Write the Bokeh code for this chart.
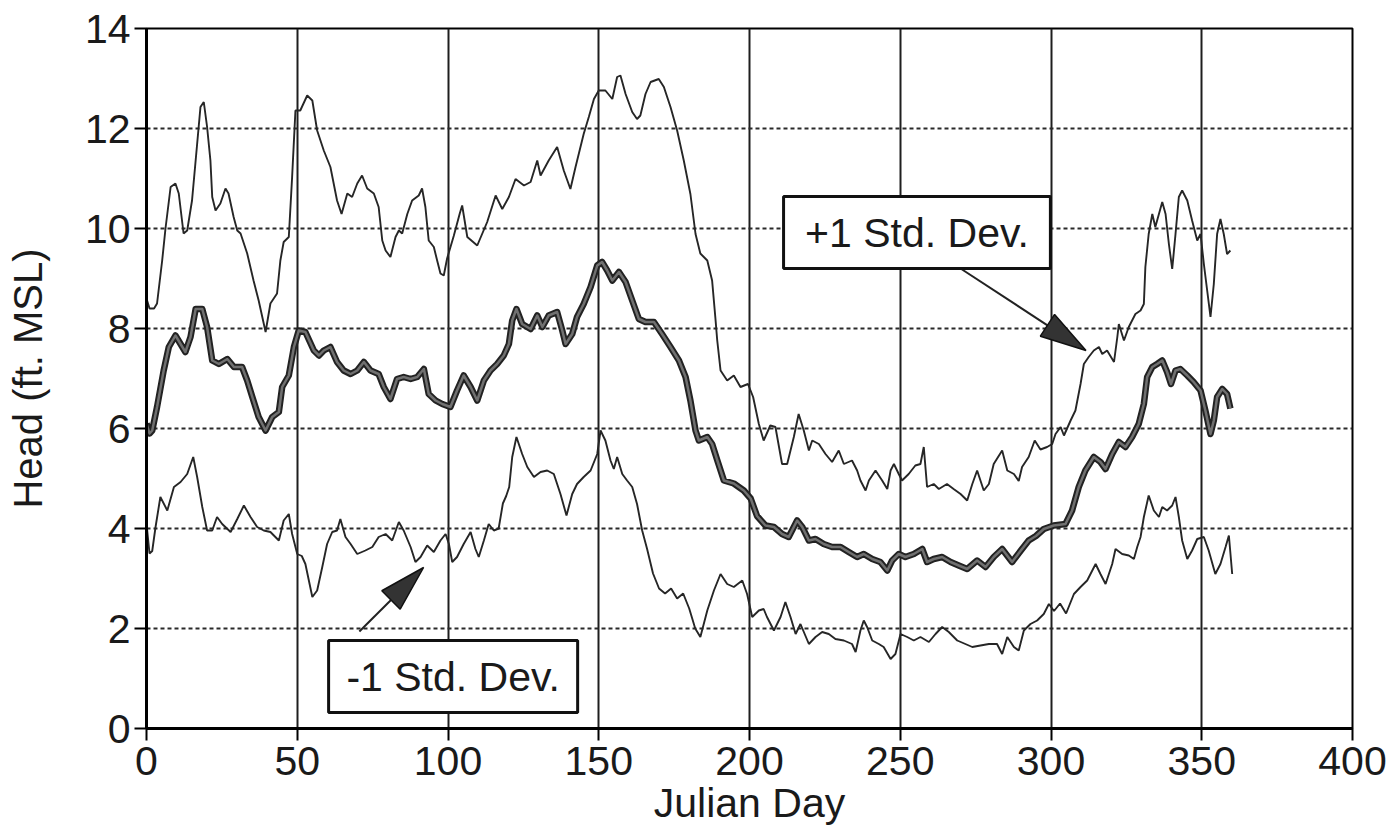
from bokeh.plotting import figure
from bokeh.models import Range1d, FixedTicker, BoxAnnotation, Label
from bokeh.embed import file_html
from bokeh.resources import INLINE

# ---------------- data ----------------
x_ticks = [0, 50, 100, 150, 200, 250, 300, 350, 400]
y_ticks = [0, 2, 4, 6, 8, 10, 12, 14]

upper_day = [0, 1, 2.5, 3.5, 5.2, 6.3, 8.0, 9.6, 10.7, 12.3, 13.5, 15.1, 16.3, 17.9, 19.0, 20.1, 21.2, 21.8, 22.9, 24.5,
             26.2, 27.2, 28.9, 30.1, 31.2, 33.4, 35.5, 37.2, 39.5, 41.1, 43.3, 44.4, 45.5, 47.2, 48.3, 49.4, 51.0, 53.3,
             55.0, 56.6, 58.8, 61.0, 63.2, 64.7, 66.6, 68.2, 69.9, 71.5, 73.2, 75.4, 77.0, 78.2, 79.3, 80.9, 82.6, 83.7,
             84.8, 86.5, 88.1, 90.3, 91.4, 92.5, 93.6, 95.3, 96.4, 97.5, 98.6, 99.7, 101.9, 103.9, 104.7, 106.4, 109.7,
             113.0, 115.8, 118.0, 120.2, 122.4, 125.2, 127.4, 129.6, 130.7, 133.4, 136.2, 138.4, 140.6, 142.3, 145.0,
             146.7, 148.4, 150.0, 152.2, 154.5, 156.1, 157.2, 158.9, 161.1, 162.7, 163.8, 165.5, 167.2, 169.9, 171.6,
             173.8, 176.0, 178.2, 180.4, 182.1, 183.7, 186.0, 187.6, 188.7, 189.3, 190.4, 192.6, 194.8, 197.0, 199.5,
             201.2, 203.1, 204.7, 206.9, 208.6, 210.8, 212.5, 214.7, 216.3, 218.0, 219.7, 220.8, 223.0, 225.2, 227.4,
             229.6, 231.3, 234.0, 235.7, 236.8, 238.5, 239.6, 241.8, 244.0, 245.7, 246.8, 247.9, 249.5, 250.6, 252.8,
             255.0, 256.7, 257.8, 258.9, 261.1, 262.8, 265.5, 267.7, 270.0, 272.2, 273.9, 275.5, 277.7, 279.4, 281.0,
             283.8, 285.5, 287.7, 289.3, 290.4, 292.6, 294.6, 296.5, 298.7, 300.4, 301.5, 303.2, 304.3, 306.5, 308.1,
             309.8, 310.9, 312.5, 314.2, 315.9, 317.0, 318.6, 320.9, 322.0, 322.5, 324.2, 325.8, 328.0, 329.7, 330.8,
             331.3, 332.4, 333.6, 334.6, 335.8, 336.9, 338.0, 339.1, 340.2, 341.3, 342.4, 343.5, 345.2, 346.8, 348.5,
             349.6, 350.7, 351.8, 352.9, 354.0, 355.1, 356.2, 357.3, 358.4, 359.5]
upper_head = [8.6, 8.4, 8.4, 8.5, 9.36, 10.0, 10.83, 10.9, 10.7, 9.9, 9.96, 10.56, 11.36, 12.43, 12.53, 12.03, 11.36, 10.63,
              10.36, 10.5, 10.8, 10.7, 10.23, 9.96, 9.9, 9.5, 8.96, 8.56, 7.93, 8.5, 8.7, 9.36, 9.73, 9.83, 11.03, 12.36,
              12.36, 12.66, 12.56, 11.96, 11.56, 11.23, 10.56, 10.29, 10.7, 10.63, 10.9, 11.06, 10.8, 10.7, 10.43, 9.76,
              9.56, 9.43, 9.83, 9.96, 9.9, 10.29, 10.56, 10.66, 10.8, 10.43, 9.76, 9.63, 9.36, 9.1, 9.06, 9.4, 9.85, 10.3,
              10.46, 9.83, 9.66, 10.13, 10.66, 10.39, 10.63, 10.99, 10.86, 10.93, 11.36, 11.06, 11.36, 11.63, 11.16,
              10.79, 11.23, 11.89, 12.23, 12.59, 12.76, 12.76, 12.59, 13.03, 13.06, 12.69, 12.33, 12.19, 12.26, 12.69,
              12.93, 12.99, 12.83, 12.43, 11.96, 11.36, 10.69, 9.89, 9.5, 9.36, 8.96, 8.2, 7.76, 7.16, 6.96, 7.06, 6.83,
              6.89, 6.63, 6.09, 5.76, 6.06, 6.03, 5.29, 5.29, 5.83, 6.29, 5.96, 5.56, 5.76, 5.69, 5.49, 5.33, 5.56, 5.29,
              5.36, 5.16, 4.96, 4.76, 4.96, 5.16, 4.96, 4.79, 5.16, 5.29, 5.09, 4.96, 5.09, 5.26, 5.29, 5.63, 4.83, 4.89,
              4.79, 4.89, 4.79, 4.69, 4.56, 4.89, 5.16, 4.76, 4.89, 5.29, 5.56, 5.16, 5.09, 4.95, 5.23, 5.43, 5.76, 5.58,
              5.63, 5.69, 5.89, 6.03, 5.86, 6.16, 6.36, 6.89, 7.29, 7.43, 7.56, 7.63, 7.49, 7.56, 7.33, 7.83, 8.09, 7.76,
              8.03, 8.29, 8.36, 8.49, 9.23, 9.89, 10.29, 10.03, 10.29, 10.53, 10.29, 9.69, 9.19, 9.89, 10.63, 10.76,
              10.56, 10.16, 9.76, 9.89, 9.29, 8.76, 8.23, 8.89, 9.89, 10.19, 9.89, 9.49, 9.56]

mean_day = [0, 1.0, 1.9, 3.5, 5.7, 7.4, 9.6, 11.3, 12.9, 14.6, 16.3, 18.5, 20.1, 21.8, 24.0, 26.8, 29.0, 31.7, 33.4, 35.1,
            37.2, 39.5, 41.7, 43.9, 45.0, 47.2, 48.9, 50.5, 52.7, 55.5, 57.2, 58.8, 61.0, 63.2, 65.4, 67.7, 69.9, 72.1,
            74.3, 77.0, 78.7, 80.9, 83.1, 85.3, 87.6, 89.8, 92.0, 93.6, 95.9, 98.1, 100.8, 103.0, 105.2, 107.5, 109.7,
            111.9, 114.1, 116.3, 118.5, 120.2, 121.3, 122.7, 124.6, 127.4, 129.6, 131.3, 133.4, 136.2, 137.9, 139.0,
            141.2, 142.8, 145.0, 147.3, 149.5, 151.1, 152.8, 154.5, 156.7, 158.9, 161.1, 163.3, 165.5, 168.3, 171.0,
            173.8, 176.6, 178.8, 180.4, 182.1, 183.2, 186.0, 187.6, 189.5, 191.5, 194.8, 198.1, 200.4, 202.5, 205.3,
            208.1, 210.8, 213.0, 215.8, 217.5, 219.7, 221.9, 224.6, 227.4, 230.2, 232.9, 235.7, 237.9, 240.7, 243.4,
            245.7, 247.3, 249.5, 251.7, 254.5, 257.3, 258.9, 261.1, 263.9, 266.7, 269.4, 272.2, 275.5, 278.3, 281.0,
            283.8, 287.1, 290.0, 292.6, 295.0, 297.6, 300.9, 304.8, 307.0, 309.2, 311.4, 314.2, 316.4, 318.1, 320.3,
            322.5, 324.7, 326.9, 329.1, 330.8, 331.9, 333.6, 335.2, 336.9, 338.5, 339.8, 341.3, 342.9, 345.2, 347.3,
            349.6, 351.2, 352.9, 354.0, 355.1, 356.8, 358.4, 359.5]
mean_head = [6.1, 5.9, 5.96, 6.43, 7.16, 7.63, 7.86, 7.69, 7.53, 7.83, 8.39, 8.39, 8.03, 7.36, 7.29, 7.39, 7.23, 7.23, 6.96,
             6.63, 6.23, 5.96, 6.23, 6.33, 6.83, 7.06, 7.63, 7.96, 7.93, 7.56, 7.46, 7.56, 7.63, 7.33, 7.16, 7.09, 7.16,
             7.33, 7.16, 7.09, 6.83, 6.59, 6.99, 7.03, 6.99, 7.03, 7.19, 6.69, 6.56, 6.49, 6.43, 6.76, 7.06, 6.83, 6.56,
             6.96, 7.16, 7.29, 7.46, 7.69, 8.16, 8.39, 8.09, 7.99, 8.26, 8.03, 8.26, 8.33, 7.96, 7.69, 7.89, 8.23, 8.49,
             8.83, 9.26, 9.33, 9.16, 8.96, 9.13, 8.93, 8.56, 8.19, 8.13, 8.13, 7.89, 7.63, 7.36, 7.03, 6.56, 5.96, 5.76,
             5.83, 5.69, 5.33, 4.96, 4.9, 4.76, 4.6, 4.25, 4.06, 4.03, 3.89, 3.83, 4.16, 4.03, 3.76, 3.79, 3.69, 3.63,
             3.63, 3.53, 3.43, 3.49, 3.39, 3.33, 3.16, 3.36, 3.49, 3.43, 3.49, 3.59, 3.33, 3.39, 3.43, 3.33, 3.26, 3.19,
             3.36, 3.23, 3.43, 3.59, 3.33, 3.56, 3.76, 3.85, 3.99, 4.06, 4.09, 4.36, 4.83, 5.16, 5.43, 5.33, 5.19, 5.49,
             5.73, 5.63, 5.83, 6.09, 6.49, 7.03, 7.23, 7.29, 7.36, 7.13, 6.89, 7.16, 7.19, 7.06, 6.93, 6.76, 6.36, 5.89,
             6.16, 6.63, 6.79, 6.69, 6.4]

lower_day = [0, 1.0, 1.9, 3.0, 4.6, 6.9, 9.1, 11.3, 13.5, 15.5, 16.8, 18.5, 20.1, 21.8, 23.4, 25.1, 27.9, 30.1, 32.3, 34.5,
             36.7, 38.9, 41.1, 43.9, 45.5, 47.2, 48.3, 50.0, 51.5, 52.7, 55.0, 56.6, 58.3, 59.9, 61.6, 63.2, 64.3, 66.0,
             67.7, 69.9, 72.6, 74.9, 77.0, 79.3, 81.5, 83.7, 85.3, 87.6, 89.2, 90.9, 93.1, 95.3, 97.5, 99.2, 100.3, 101.4,
             103.0, 105.2, 107.5, 109.1, 110.2, 111.9, 113.5, 115.2, 116.8, 118.2, 119.3, 120.3, 121.3, 122.7, 124.6,
             126.3, 128.5, 130.7, 132.9, 135.1, 137.3, 139.3, 141.2, 142.8, 145.0, 147.3, 149.5, 150.6, 152.2, 153.9,
             155.0, 156.1, 157.8, 159.4, 161.1, 162.7, 164.4, 166.0, 168.0, 170.0, 172.0, 174.0, 176.0, 178.0, 180.0,
             182.0, 183.7, 186.0, 188.2, 190.4, 192.6, 194.8, 197.6, 199.2, 200.9, 203.1, 204.7, 205.8, 208.1, 210.3,
             211.9, 213.6, 215.3, 216.9, 219.7, 221.9, 224.1, 226.3, 228.5, 231.3, 234.0, 235.2, 236.8, 237.9, 239.0,
             240.7, 242.9, 244.5, 246.8, 248.4, 250.1, 252.3, 254.5, 256.7, 259.5, 261.7, 263.9, 266.1, 268.9, 271.6,
             273.9, 276.6, 279.4, 282.1, 283.8, 285.5, 287.7, 289.3, 291.0, 293.2, 295.4, 297.6, 299.3, 301.0, 303.0,
             305.0, 307.6, 309.8, 312.0, 314.8, 316.4, 318.1, 320.3, 321.4, 323.6, 325.8, 327.5, 328.6, 329.7, 330.8,
             332.4, 334.1, 335.8, 336.9, 338.5, 340.2, 341.3, 342.4, 343.5, 345.2, 346.8, 348.5, 350.7, 352.3, 354.5,
             356.2, 357.9, 359.0, 360.1]
lower_head = [4.1, 3.5, 3.55, 4.03, 4.63, 4.36, 4.83, 4.93, 5.09, 5.43, 5.03, 4.43, 3.96, 3.96, 4.23, 4.09, 3.93, 4.19, 4.46,
              4.23, 4.03, 3.96, 3.93, 3.76, 4.16, 4.29, 3.89, 3.49, 3.45, 3.29, 2.63, 2.76, 3.23, 3.69, 3.93, 3.96, 4.19,
              3.83, 3.69, 3.49, 3.56, 3.63, 3.83, 3.89, 3.76, 4.13, 3.96, 3.63, 3.33, 3.43, 3.66, 3.53, 3.76, 3.89, 3.69,
              3.33, 3.43, 3.69, 3.93, 3.59, 3.43, 3.76, 4.09, 3.96, 4.0, 4.5, 4.65, 4.83, 5.43, 5.83, 5.49, 5.23, 5.03,
              5.13, 5.16, 5.09, 4.69, 4.26, 4.69, 4.89, 5.03, 5.16, 5.49, 5.96, 5.76, 5.36, 5.19, 5.43, 5.09, 4.96, 4.83,
              4.49, 3.96, 3.6, 3.1, 2.8, 2.7, 2.8, 2.6, 2.7, 2.4, 2.0, 1.83, 2.36, 2.76, 3.09, 2.89, 2.83, 2.96, 2.69,
              2.23, 2.36, 2.39, 2.23, 1.96, 2.23, 2.53, 2.23, 1.89, 2.09, 1.69, 1.83, 1.93, 1.89, 1.79, 1.76, 1.69, 1.53,
              1.96, 2.16, 2.03, 1.76, 1.69, 1.63, 1.39, 1.49, 1.89, 1.83, 1.76, 1.83, 1.73, 1.89, 2.03, 1.93, 1.76, 1.69,
              1.63, 1.66, 1.69, 1.69, 1.49, 1.83, 1.63, 1.56, 1.96, 2.09, 2.16, 2.29, 2.49, 2.35, 2.5, 2.3, 2.69, 2.83,
              2.96, 3.29, 3.09, 2.89, 3.29, 3.59, 3.49, 3.46, 3.39, 3.63, 3.83, 4.23, 4.66, 4.36, 4.23, 4.43, 4.36, 4.46,
              4.63, 4.23, 3.76, 3.39, 3.56, 3.79, 3.83, 3.56, 3.09, 3.29, 3.63, 3.86, 3.09]

labels = ["+1 Std. Dev.", "-1 Std. Dev."]

# ---------------- figure ----------------
FONT = "Liberation Sans"
W, H = 1398, 834
ML, MR, MT, MB = 146, 46, 28, 106
XR, YR = (0, 400), (0, 14)
px_x = (W - ML - MR) / (XR[1] - XR[0])
px_y = (H - MT - MB) / (YR[1] - YR[0])

p = figure(width=W, height=H, output_backend="svg", toolbar_location=None,
           x_range=Range1d(*XR), y_range=Range1d(*YR),
           min_border_left=ML, min_border_right=MR, min_border_top=MT, min_border_bottom=MB,
           background_fill_color="white", border_fill_color="white")

p.outline_line_color = "black"
p.outline_line_width = 2

p.xgrid.ticker = FixedTicker(ticks=x_ticks)
p.xgrid.grid_line_color = "#1e1e1e"
p.xgrid.grid_line_width = 2
p.ygrid.ticker = FixedTicker(ticks=y_ticks)
p.ygrid.grid_line_color = "#2a2a2a"
p.ygrid.grid_line_width = 2
p.ygrid.grid_line_dash = "4 3"

for ax, ticks in ((p.xaxis, x_ticks), (p.yaxis, y_ticks)):
    ax.ticker = FixedTicker(ticks=ticks)
    ax.major_label_text_font = FONT
    ax.major_label_text_font_size = "41px"
    ax.major_label_text_color = "#1a1a1a"
    ax.major_tick_out = 12
    ax.major_tick_in = 0
    ax.major_tick_line_width = 2
    ax.major_tick_line_color = "black"
    ax.minor_tick_out = 0
    ax.minor_tick_in = 0
    ax.axis_line_width = 3
    ax.axis_line_color = "black"
    ax.axis_label_text_font = FONT
    ax.axis_label_text_font_style = "normal"
    ax.axis_label_text_color = "#1a1a1a"

p.xaxis.axis_label = "Julian Day"
p.xaxis.axis_label_text_font_size = "41px"
p.xaxis.major_label_standoff = 6
p.xaxis.axis_label_standoff = 2
p.yaxis.axis_label = "Head (ft. MSL)"
p.yaxis.axis_label_text_font_size = "40px"
p.yaxis.major_label_standoff = 4
p.yaxis.axis_label_standoff = 32

# ---------------- series ----------------
p.line(upper_day, upper_head, line_color="#262626", line_width=1.9)
p.line(lower_day, lower_head, line_color="#262626", line_width=1.9)
p.line(mean_day, mean_head, line_color="#222222", line_width=6.5, line_join="round")
p.line(mean_day, mean_head, line_color="#707070", line_width=2.5, line_join="round")

# ---------------- annotations ----------------
def pointer(x0, y0, x1, y1, head_len=46, head_half=13):
    dxp, dyp = (x1 - x0) * px_x, (y1 - y0) * px_y
    L = (dxp ** 2 + dyp ** 2) ** 0.5
    ux, uy = dxp / L, dyp / L
    bx, by = x1 - head_len * ux / px_x, y1 - head_len * uy / px_y
    p.line([x0, bx], [y0, by], line_color="#222222", line_width=2)
    xs = [x1, bx - head_half * uy / px_x, bx + head_half * uy / px_x]
    ys = [y1, by + head_half * ux / px_y, by - head_half * ux / px_y]
    p.patch(xs, ys, fill_color="#333333", line_color="#111111", line_width=1.5)

# box edges (data units): left, right, bottom, top ; arrow start and tip
plus_box = (211.3, 299.8, 9.2, 10.64)
minus_box = (60.4, 143.0, 0.32, 1.76)
plus_arrow = (270.0, 9.2, 311.6, 7.56)
minus_arrow = (70.6, 1.94, 91.9, 3.22)

for (l, r, b, t), txt in ((plus_box, labels[0]), (minus_box, labels[1])):
    p.add_layout(BoxAnnotation(left=l, right=r, bottom=b, top=t, fill_color="white", fill_alpha=1.0,
                               line_color="#111111", line_width=3, line_alpha=1.0))
    p.add_layout(Label(x=(l + r) / 2, y=(b + t) / 2, text=txt, text_align="center", text_baseline="middle",
                       text_font=FONT, text_font_size="41px", text_color="#1a1a1a"))

pointer(*plus_arrow)
pointer(*minus_arrow)

open("out.html", "w").write(file_html(p, INLINE))
